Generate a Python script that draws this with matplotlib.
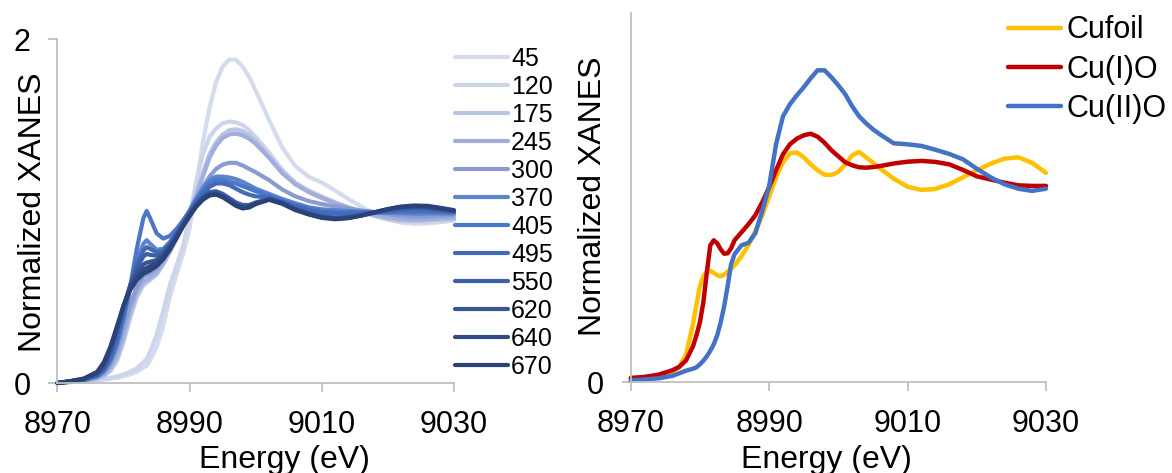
import numpy as np
import matplotlib
matplotlib.use("Agg")
import matplotlib.pyplot as plt

plt.rcParams['font.family'] = ['Liberation Sans', 'DejaVu Sans']

# left panel: energy grid (eV) and normalized XANES for each temperature
energy_l = [8970, 8972, 8974, 8976, 8977, 8978, 8979, 8980, 8981, 8982, 8983, 8983.5,
            8984, 8985, 8986, 8987, 8988, 8989, 8990, 8991, 8992, 8993, 8994, 8995,
            8996, 8997, 8998, 8999, 9000, 9002, 9004, 9006, 9008, 9010, 9012, 9014,
            9016, 9018, 9020, 9022, 9024, 9026, 9028, 9030]

labels_l = ['45', '120', '175', '245', '300', '370', '405', '495', '550', '620', '640', '670']

x45 = [0.0, 0.005, 0.01, 0.015, 0.02, 0.025, 0.03, 0.04, 0.05, 0.065, 0.09, 0.10,
       0.13, 0.21, 0.33, 0.50, 0.63, 0.75, 0.90, 1.15, 1.40, 1.60, 1.75, 1.84,
       1.88, 1.88, 1.84, 1.78, 1.70, 1.53, 1.37, 1.26, 1.20, 1.165, 1.12, 1.07,
       1.025, 0.985, 0.952, 0.932, 0.925, 0.928, 0.935, 0.945]
x120 = [0.0, 0.005, 0.01, 0.018, 0.024, 0.03, 0.038, 0.05, 0.065, 0.085, 0.12, 0.14,
        0.18, 0.28, 0.42, 0.57, 0.68, 0.80, 0.97, 1.17, 1.33, 1.43, 1.48, 1.51,
        1.52, 1.515, 1.50, 1.47, 1.43, 1.34, 1.24, 1.165, 1.12, 1.085, 1.05, 1.02,
        0.995, 0.97, 0.95, 0.94, 0.935, 0.937, 0.942, 0.95]
x175 = [0.0, 0.006, 0.012, 0.025, 0.04, 0.07, 0.13, 0.24, 0.38, 0.50, 0.57, 0.585,
        0.60, 0.63, 0.69, 0.76, 0.84, 0.92, 1.00, 1.10, 1.22, 1.33, 1.40, 1.445,
        1.47, 1.475, 1.465, 1.44, 1.41, 1.32, 1.23, 1.16, 1.115, 1.08, 1.05, 1.02,
        0.995, 0.972, 0.955, 0.945, 0.942, 0.945, 0.95, 0.955]
x245 = [0.0, 0.007, 0.014, 0.03, 0.05, 0.09, 0.16, 0.28, 0.42, 0.53, 0.59, 0.60,
        0.615, 0.645, 0.70, 0.77, 0.85, 0.93, 1.00, 1.09, 1.20, 1.31, 1.38, 1.425,
        1.445, 1.45, 1.44, 1.42, 1.39, 1.31, 1.22, 1.155, 1.11, 1.075, 1.045, 1.02,
        0.997, 0.978, 0.962, 0.953, 0.95, 0.952, 0.957, 0.962]
x300 = [0.0, 0.008, 0.016, 0.035, 0.06, 0.11, 0.20, 0.33, 0.46, 0.56, 0.62, 0.63,
        0.64, 0.67, 0.73, 0.80, 0.87, 0.94, 1.00, 1.07, 1.14, 1.20, 1.245, 1.27,
        1.28, 1.28, 1.265, 1.245, 1.225, 1.18, 1.125, 1.085, 1.058, 1.04, 1.027, 1.015,
        1.003, 0.993, 0.982, 0.972, 0.968, 0.968, 0.972, 0.977]
x370 = [0.0, 0.008, 0.018, 0.04, 0.07, 0.13, 0.23, 0.38, 0.55, 0.71, 0.81, 0.83,
        0.81, 0.775, 0.78, 0.82, 0.88, 0.94, 1.00, 1.07, 1.13, 1.18, 1.20, 1.20,
        1.195, 1.185, 1.17, 1.15, 1.13, 1.10, 1.07, 1.045, 1.022, 1.01, 1.005, 1.0,
        0.997, 0.994, 0.99, 0.987, 0.985, 0.985, 0.986, 0.987]
x405 = [0.0, 0.008, 0.018, 0.04, 0.07, 0.13, 0.23, 0.38, 0.56, 0.78, 0.96, 1.00,
        0.96, 0.87, 0.84, 0.855, 0.895, 0.945, 1.0, 1.06, 1.12, 1.165, 1.18, 1.18,
        1.17, 1.16, 1.145, 1.13, 1.115, 1.09, 1.06, 1.035, 1.015, 1.0, 0.995, 0.993,
        0.993, 0.993, 0.993, 0.994, 0.995, 0.995, 0.993, 0.99]
x495 = [0.0, 0.009, 0.02, 0.045, 0.08, 0.15, 0.26, 0.41, 0.56, 0.69, 0.77, 0.79,
        0.78, 0.76, 0.77, 0.81, 0.87, 0.935, 0.995, 1.055, 1.10, 1.14, 1.16, 1.16,
        1.15, 1.13, 1.11, 1.095, 1.085, 1.08, 1.055, 1.03, 1.005, 0.99, 0.985, 0.984,
        0.987, 0.992, 0.998, 1.003, 1.005, 1.005, 1.0, 0.995]
x550 = [0.0, 0.01, 0.022, 0.05, 0.09, 0.17, 0.29, 0.44, 0.57, 0.67, 0.735, 0.75,
        0.745, 0.74, 0.76, 0.80, 0.86, 0.925, 0.985, 1.04, 1.085, 1.11, 1.115, 1.10,
        1.075, 1.05, 1.035, 1.035, 1.05, 1.07, 1.05, 1.015, 0.99, 0.97, 0.962, 0.965,
        0.975, 0.99, 1.005, 1.015, 1.02, 1.018, 1.008, 0.998]
x620 = [0.0, 0.01, 0.024, 0.055, 0.10, 0.19, 0.31, 0.45, 0.56, 0.64, 0.69, 0.70,
        0.705, 0.715, 0.745, 0.79, 0.855, 0.92, 0.98, 1.035, 1.075, 1.10, 1.105, 1.09,
        1.065, 1.04, 1.025, 1.03, 1.045, 1.07, 1.048, 1.01, 0.985, 0.965, 0.958, 0.962,
        0.975, 0.992, 1.008, 1.02, 1.025, 1.022, 1.012, 1.0]
x640 = [0.0, 0.011, 0.025, 0.06, 0.11, 0.20, 0.32, 0.45, 0.55, 0.62, 0.66, 0.67,
        0.68, 0.70, 0.735, 0.785, 0.85, 0.915, 0.975, 1.03, 1.07, 1.095, 1.10, 1.085,
        1.06, 1.035, 1.02, 1.025, 1.043, 1.068, 1.045, 1.008, 0.982, 0.962, 0.955, 0.96,
        0.975, 0.993, 1.01, 1.023, 1.028, 1.025, 1.015, 1.002]
x670 = [0.0, 0.011, 0.026, 0.065, 0.12, 0.21, 0.33, 0.45, 0.54, 0.60, 0.635, 0.645,
        0.655, 0.68, 0.72, 0.775, 0.84, 0.91, 0.97, 1.025, 1.065, 1.09, 1.095, 1.08,
        1.055, 1.03, 1.015, 1.02, 1.04, 1.065, 1.042, 1.005, 0.98, 0.96, 0.952, 0.958,
        0.973, 0.993, 1.012, 1.026, 1.032, 1.03, 1.018, 1.005]

series_l = [x45, x120, x175, x245, x300, x370, x405, x495, x550, x620, x640, x670]
colors_l = ['#D5DBEE', '#CDD5EB', '#B9C4E3', '#A0AEDA', '#8B9BD1', '#5B84CF',
            '#4A77C7', '#436AB9', '#3D5FA8', '#365496', '#304A87', '#2A4278']

# right panel: references
energy_r = [8970, 8972, 8974, 8976, 8977, 8978, 8979, 8979.5, 8980, 8980.5, 8981, 8981.5,
            8982, 8982.5, 8983, 8983.5, 8984, 8984.5, 8985, 8986, 8987, 8988, 8989, 8990,
            8991, 8992, 8993, 8994, 8995, 8996, 8997, 8998, 8999, 9000, 9001, 9002,
            9003, 9004, 9005, 9006, 9008, 9010, 9012, 9014, 9016, 9018, 9020, 9022,
            9024, 9026, 9028, 9030]

cu_foil = [0.010, 0.015, 0.027, 0.052, 0.075, 0.14, 0.29, 0.39, 0.48, 0.53, 0.553, 0.557,
           0.548, 0.535, 0.53, 0.538, 0.553, 0.568, 0.585, 0.63, 0.685, 0.755, 0.835, 0.927,
           1.025, 1.10, 1.145, 1.15, 1.125, 1.09, 1.06, 1.038, 1.037, 1.052, 1.09, 1.135,
           1.152, 1.125, 1.098, 1.07, 1.018, 0.978, 0.962, 0.967, 0.99, 1.025, 1.06, 1.093,
           1.118, 1.125, 1.097, 1.047]
cu1_o = [0.022, 0.027, 0.038, 0.060, 0.077, 0.11, 0.18, 0.235, 0.30, 0.40, 0.55, 0.685,
         0.71, 0.695, 0.665, 0.643, 0.645, 0.67, 0.71, 0.75, 0.79, 0.835, 0.90, 0.975,
         1.06, 1.14, 1.19, 1.218, 1.235, 1.243, 1.228, 1.198, 1.16, 1.13, 1.10, 1.085,
         1.075, 1.073, 1.076, 1.081, 1.094, 1.103, 1.107, 1.102, 1.09, 1.062, 1.03, 1.014,
         0.998, 0.985, 0.982, 0.982]
cu2_o = [0.010, 0.014, 0.020, 0.032, 0.045, 0.058, 0.068, 0.075, 0.09, 0.108, 0.13, 0.158,
         0.19, 0.235, 0.30, 0.38, 0.48, 0.59, 0.64, 0.685, 0.697, 0.745, 0.855, 0.98,
         1.19, 1.33, 1.39, 1.435, 1.475, 1.52, 1.56, 1.56, 1.525, 1.485, 1.44, 1.38,
         1.33, 1.295, 1.265, 1.24, 1.195, 1.19, 1.182, 1.163, 1.142, 1.115, 1.068, 1.025,
         0.99, 0.968, 0.957, 0.968]

series_r = [cu_foil, cu1_o, cu2_o]
labels_r = ['Cufoil', 'Cu(I)O', 'Cu(II)O']
colors_r = ['#FFC000', '#C00000', '#4472C4']

xticks = [8970, 8990, 9010, 9030]
gray = '#BFBFBF'

fig = plt.figure(figsize=(11.72, 4.73), dpi=100)
ax1 = fig.add_axes([0.04906, 0.19027, 0.33831, 0.72727])
ax2 = fig.add_axes([0.53814, 0.19175, 0.35435, 0.78140])


def style(ax, ymax, yticks):
    ax.set_xlim(8970, 9030)
    ax.set_ylim(0, ymax)
    ax.set_xticks(xticks)
    ax.set_yticks(yticks)
    for s in ['top', 'right']:
        ax.spines[s].set_visible(False)
    for s in ['left', 'bottom']:
        ax.spines[s].set_color(gray)
        ax.spines[s].set_linewidth(1.3)
    ax.tick_params(direction='out', length=6.5, width=1.3, color=gray,
                   labelsize=22, pad=13)


for vals, c, lab in zip(series_l, colors_l, labels_l):
    ax1.plot(energy_l, vals, color=c, lw=3, label=lab, solid_capstyle='round',
             solid_joinstyle='round', clip_on=False)
style(ax1, 2, [0, 2])

for vals, c, lab in zip(series_r, colors_r, labels_r):
    ax2.plot(energy_r, vals, color=c, lw=3.2, label=lab, solid_capstyle='round',
             solid_joinstyle='round', clip_on=False)
style(ax2, 1.848, [0])

fig.legend(*ax1.get_legend_handles_labels(), loc='upper left',
           bbox_to_anchor=(455 / 1172, 1 - 46.5 / 473), frameon=False, fontsize=18,
           borderpad=0, borderaxespad=0, handlelength=2.1, handletextpad=0.15,
           labelspacing=0.16)
fig.legend(*ax2.get_legend_handles_labels(), loc='upper left',
           bbox_to_anchor=(1008 / 1172, 1 - 15.5 / 473), frameon=False, fontsize=22,
           borderpad=0, borderaxespad=0, handlelength=1.75, handletextpad=0.18,
           labelspacing=0.3)

fig.text(33.5 / 1172, 1 - 212.5 / 473, 'Normalized XANES', rotation=90,
         ha='center', va='center', fontsize=23)
fig.text(593 / 1172, 1 - 196.5 / 473, 'Normalized XANES', rotation=90,
         ha='center', va='center', fontsize=23)
fig.text(284 / 1172, 1 - 445 / 473, 'Energy (eV)', ha='center', va='top', fontsize=23)
fig.text(826 / 1172, 1 - 445 / 473, 'Energy (eV)', ha='center', va='top', fontsize=23)

fig.savefig('out.png', dpi=100)
